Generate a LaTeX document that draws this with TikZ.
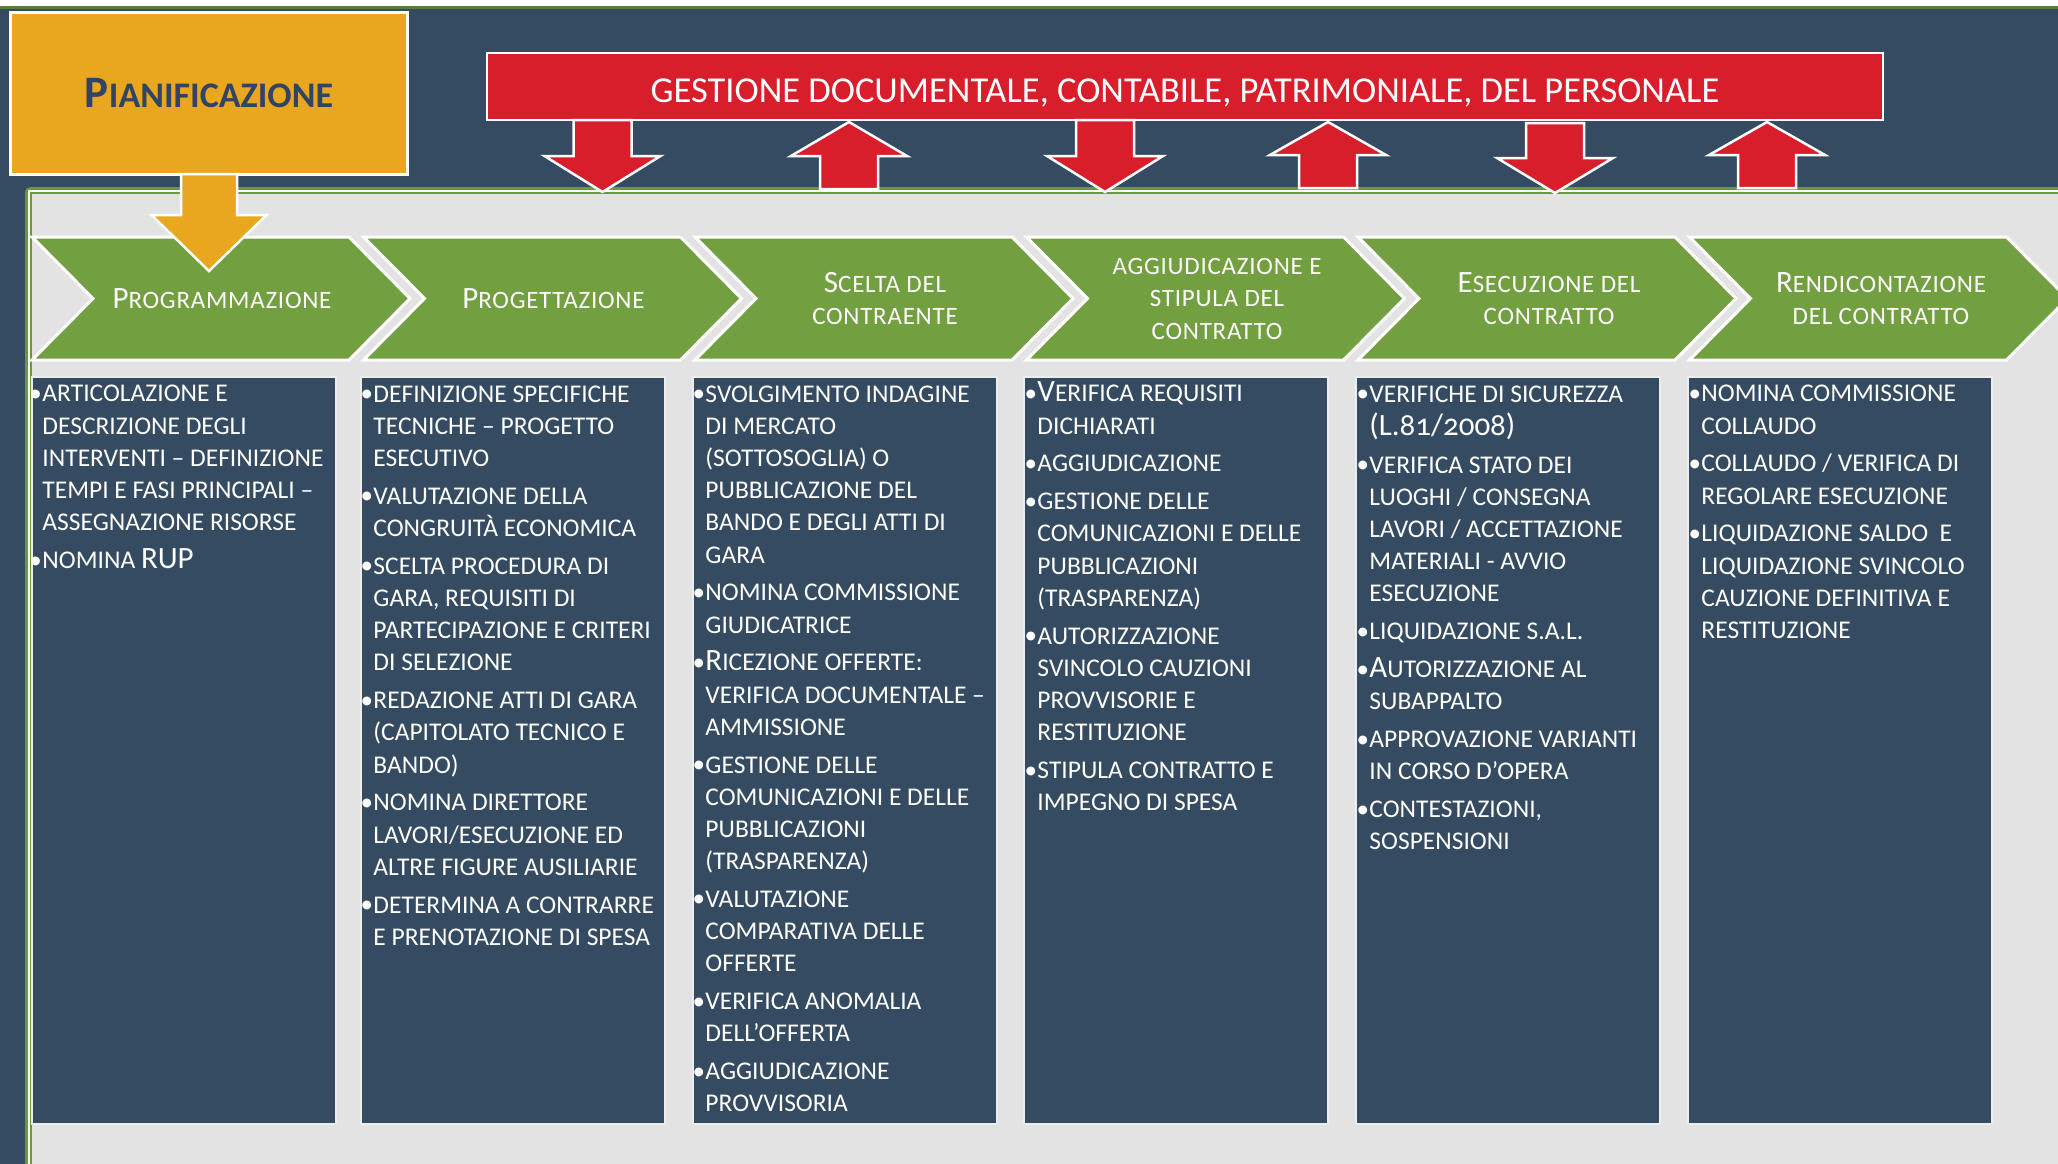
\documentclass[tikz,border=0pt]{standalone}
\usepackage{fontspec}
\setmainfont{Carlito}
\newfontfamily\chevfont[LetterSpace=3]{Carlito}
\usetikzlibrary{calc}

\definecolor{navy}{RGB}{53,75,98}
\definecolor{panelgray}{RGB}{228,227,228}
\definecolor{chevgreen}{RGB}{114,159,64}
\definecolor{framegreen}{RGB}{106,153,60}
\definecolor{topgreen}{RGB}{90,124,56}
\definecolor{bannerred}{RGB}{216,30,42}
\definecolor{planorange}{RGB}{233,167,32}
\definecolor{plantext}{RGB}{47,69,98}

% body text: small caps imitated with two sizes of capitals
\newcommand\bodyfont{\fontsize{25.5}{32.2}\selectfont}
\newcommand\Lg[1]{{\fontsize{31}{32.2}\selectfont #1}}
\newcommand\bul{\llap{\raisebox{0.5pt}{\fontsize{25}{25}\selectfont\textbullet}\hspace{0.5pt}}}
\newcommand\gap{\\[5.6pt]}
% chevron labels
\newcommand\chevtextfont{\chevfont\fontsize{25}{32.5}\selectfont}
\newcommand\Cg[1]{{\fontsize{31}{32.5}\selectfont #1}}
% block arrow: style, x centre, shaft end y, head base y, tip y, shaft half width, head half width
\newcommand\blockarrow[7]{%
  \filldraw[#1] (#2-#6,#3) -- (#2+#6,#3) -- (#2+#6,#4) -- (#2+#7,#4) -- (#2,#5)
    -- (#2-#7,#4) -- (#2-#6,#4) -- cycle;}

\begin{document}
\begin{tikzpicture}[x=1pt,y=-1pt,
  bodybox/.style={draw=white!90!navy,line width=1.5pt,fill=navy,minimum width=304pt,
    minimum height=747pt,inner sep=0pt},
  chev/.style={fill=chevgreen,draw=white,line width=3pt,line join=miter},
  chevtext/.style={text=white,align=center,font=\chevtextfont,inner sep=0pt},
  bodytext/.style={anchor=north west,inner sep=0pt,align=left,text=white,font=\bodyfont},
  planbox/.style={fill=planorange,draw=white,line width=3pt,minimum width=397pt,
    minimum height=161pt,inner sep=0pt,text=plantext,font=\bfseries\fontsize{36}{40}\selectfont},
  banner/.style={fill=bannerred,draw=white,line width=2.5pt,minimum width=1396pt,
    minimum height=67pt,inner sep=0pt},
  bannertext/.style={inner sep=0pt,text=white,font=\fontsize{36.5}{40}\selectfont},
  redarrow/.style={fill=bannerred,draw=white,line width=2.5pt,line join=miter},
  orangearrow/.style={fill=planorange,draw=white,line width=2.5pt,line join=miter}]

\useasboundingbox (0,0) rectangle (2058,1164);
\clip (0,0) rectangle (2058,1164);

% background and top rule
\fill[navy] (0,0) rectangle (2058,1164);
\fill[white] (0,0) rectangle (2058,6);
\fill[topgreen] (0,6) rectangle (2058,9.5);

% light panel with double green frame
\fill[panelgray] (31,193) rectangle (2080,1190);
\draw[framegreen,line width=3pt,rounded corners=4pt] (26.5,1190) |- (2080,188.5);
\draw[white,line width=1.8pt] (29.3,1190) |- (2080,191.1);
\draw[framegreen,line width=2.2pt] (31.2,1190) |- (2080,193.2);

% activity columns
\foreach \i/\x in {1/32,2/361,3/693,4/1024,5/1356,6/1688}
  \node[bodybox] (b\i) at (\x+152,750.5) {};

% phase chevrons
\foreach \i in {1,...,6}{
  \pgfmathsetmacro\xo{32+331.5*(\i-1)}
  \filldraw[chev] (\xo,237) -- ++(317,0) -- ++(61,61.5) -- ++(-61,61.5)
    -- ++(-317,0) -- ++(61,-61.5) -- cycle;
}
\node[chevtext] (c1) at (222,298.5) {\Cg{P}ROGRAMMAZIONE};
\node[chevtext] (c2) at (553.5,298.5) {\Cg{P}ROGETTAZIONE};
\node[chevtext] (c3) at (885,298.5) {\Cg{S}CELTA DEL\\CONTRAENTE};
\node[chevtext] (c4) at (1217,298.5) {AGGIUDICAZIONE E\\STIPULA DEL\\CONTRATTO};
\node[chevtext] (c5) at (1549,298.5) {\Cg{E}SECUZIONE DEL\\CONTRATTO};
\node[chevtext] (c6) at (1881,298.5) {\Cg{R}ENDICONTAZIONE\\DEL CONTRATTO};

% column contents
\node[bodytext] (t1) at ($(b1.north west)+(11,3)$) {%
\strut\bul ARTICOLAZIONE E\\
DESCRIZIONE DEGLI\\
INTERVENTI – DEFINIZIONE\\
TEMPI E FASI PRINCIPALI –\\
ASSEGNAZIONE RISORSE\gap
\bul NOMINA \Lg{RUP}};

\node[bodytext] (t2) at ($(b2.north west)+(13,3)$) {%
\strut\bul DEFINIZIONE SPECIFICHE\\
TECNICHE – PROGETTO\\
ESECUTIVO\gap
\bul VALUTAZIONE DELLA\\
CONGRUITÀ ECONOMICA\gap
\bul SCELTA PROCEDURA DI\\
GARA, REQUISITI DI\\
PARTECIPAZIONE E CRITERI\\
DI SELEZIONE\gap
\bul REDAZIONE ATTI DI GARA\\
(CAPITOLATO TECNICO E\\
BANDO)\gap
\bul NOMINA DIRETTORE\\
LAVORI/ESECUZIONE ED\\
ALTRE FIGURE AUSILIARIE\gap
\bul DETERMINA A CONTRARRE\\
E PRENOTAZIONE DI SPESA};

\node[bodytext] (t3) at ($(b3.north west)+(13,3)$) {%
\strut\bul SVOLGIMENTO INDAGINE\\
DI MERCATO\\
(SOTTOSOGLIA) O\\
PUBBLICAZIONE DEL\\
BANDO E DEGLI ATTI DI\\
GARA\gap
\bul NOMINA COMMISSIONE\\
GIUDICATRICE\gap
\bul \Lg{R}ICEZIONE OFFERTE:\\
VERIFICA DOCUMENTALE –\\
AMMISSIONE\gap
\bul GESTIONE DELLE\\
COMUNICAZIONI E DELLE\\
PUBBLICAZIONI\\
(TRASPARENZA)\gap
\bul VALUTAZIONE\\
COMPARATIVA DELLE\\
OFFERTE\gap
\bul VERIFICA ANOMALIA\\
DELL’OFFERTA\gap
\bul AGGIUDICAZIONE\\
PROVVISORIA};

\node[bodytext] (t4) at ($(b4.north west)+(14,3)$) {%
\strut\bul \Lg{V}ERIFICA REQUISITI\\
DICHIARATI\gap
\bul AGGIUDICAZIONE\gap
\bul GESTIONE DELLE\\
COMUNICAZIONI E DELLE\\
PUBBLICAZIONI\\
(TRASPARENZA)\gap
\bul AUTORIZZAZIONE\\
SVINCOLO CAUZIONI\\
PROVVISORIE E\\
RESTITUZIONE\gap
\bul STIPULA CONTRATTO E\\
IMPEGNO DI SPESA};

\node[bodytext] (t5) at ($(b5.north west)+(14,3)$) {%
\strut\bul VERIFICHE DI SICUREZZA\\
\Lg{\addfontfeature{Numbers=OldStyle}(L.81/2008)}\gap
\bul VERIFICA STATO DEI\\
LUOGHI / CONSEGNA\\
LAVORI / ACCETTAZIONE\\
MATERIALI - AVVIO\\
ESECUZIONE\gap
\bul LIQUIDAZIONE S.A.L.\gap
\bul \Lg{A}UTORIZZAZIONE AL\\
SUBAPPALTO\gap
\bul APPROVAZIONE VARIANTI\\
IN CORSO D’OPERA\gap
\bul CONTESTAZIONI,\\
SOSPENSIONI};

\node[bodytext] (t6) at ($(b6.north west)+(14,3)$) {%
\strut\bul NOMINA COMMISSIONE\\
COLLAUDO\gap
\bul COLLAUDO / VERIFICA DI\\
REGOLARE ESECUZIONE\gap
\bul LIQUIDAZIONE SALDO\ \ E\\
LIQUIDAZIONE SVINCOLO\\
CAUZIONE DEFINITIVA E\\
RESTITUZIONE};

% planning block and its arrow into the first phase
\node[planbox] (plan) at (209,93.5) {{\fontsize{45}{40}\selectfont P}IANIFICAZIONE};
\blockarrow{orangearrow}{209}{174}{215}{271}{28}{57.5}

% management banner and the exchange arrows
\node[banner] (gest) at (1185,86.5) {};
\node[bannertext] (gesttext) at ($(gest.center)+(0,6.5)$) {GESTIONE DOCUMENTALE, CONTABILE, PATRIMONIALE, DEL PERSONALE};
\blockarrow{redarrow}{602.5}{120}{156}{192}{29}{58}
\blockarrow{redarrow}{849}{189}{156}{122}{29}{58}
\blockarrow{redarrow}{1105}{120}{156}{192}{29}{58}
\blockarrow{redarrow}{1328}{188}{155}{122}{29}{58}
\blockarrow{redarrow}{1555}{123}{158}{193}{29}{58}
\blockarrow{redarrow}{1767}{188}{155}{122}{29}{58}
\end{tikzpicture}
\end{document}
